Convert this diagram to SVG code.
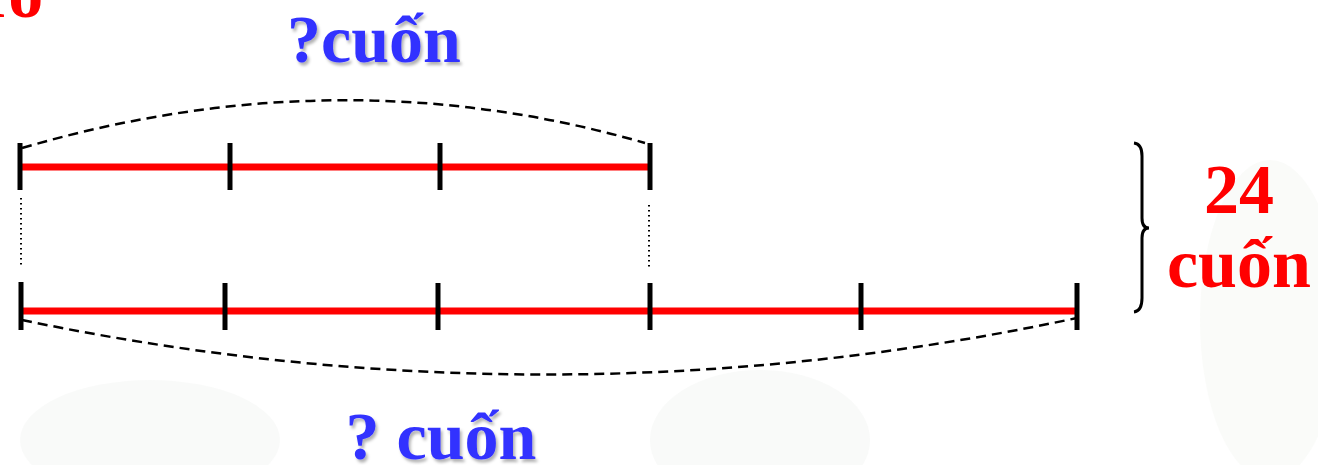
<svg xmlns="http://www.w3.org/2000/svg" width="1318" height="465" viewBox="0 0 1318 465">
<defs>
<style>
.red{fill:#ff0000;font-family:"Liberation Serif",serif;font-weight:bold;font-size:70px}
.blue{fill:#3333ff;font-family:"Liberation Serif",serif;font-weight:bold;font-size:68px}
.seg{stroke:#ff0000;stroke-width:7;fill:none}
.tick{stroke:#000;stroke-width:5;fill:none}
.dash{stroke:#000;stroke-width:2.5;stroke-dasharray:10 6;fill:none}
.dot{stroke:#000;stroke-width:2;stroke-dasharray:1.5 3.5;fill:none}
</style>
<filter id="sh" x="-10%" y="-10%" width="130%" height="140%">
<feDropShadow dx="2" dy="3" stdDeviation="1.5" flood-color="#000" flood-opacity="0.3"/>
</filter>
</defs>
<rect width="1318" height="465" fill="#fff"/>
<g id="bg" opacity="0.35">
<ellipse cx="150" cy="440" rx="130" ry="60" fill="#eef2ee"/>
<ellipse cx="760" cy="440" rx="110" ry="70" fill="#eef2ee"/>
<ellipse cx="1270" cy="320" rx="70" ry="160" fill="#f0f3ef"/>
</g>
<g id="title"><text class="red" x="-32" y="17" font-size="66">To</text></g>
<g id="connectors">
<path class="dash" d="M22,148 Q340,55 645,143"/>
<path class="dash" d="M22,320 Q550,430 1077,318"/>
<line class="dot" x1="21" y1="198" x2="21" y2="268"/>
<line class="dot" x1="649" y1="205" x2="649" y2="268"/>
<path d="M1134,143 Q1142,144 1142,156 L1142,218 Q1142,228 1149,228 Q1142,228 1142,238 L1142,298 Q1142,311 1134,312" fill="none" stroke="#000" stroke-width="3"/>
</g>
<g id="top-line">
<line class="seg" x1="20" y1="167" x2="650" y2="167"/>
<line class="tick" x1="20" y1="143" x2="20" y2="190"/>
<line class="tick" x1="230" y1="143" x2="230" y2="190"/>
<line class="tick" x1="440" y1="143" x2="440" y2="190"/>
<line class="tick" x1="650" y1="143" x2="650" y2="190"/>
</g>
<g id="bottom-line">
<line class="seg" x1="21" y1="311" x2="1077" y2="311"/>
<line class="tick" x1="21" y1="282" x2="21" y2="330"/>
<line class="tick" x1="225" y1="283" x2="225" y2="330"/>
<line class="tick" x1="438" y1="283" x2="438" y2="330"/>
<line class="tick" x1="650" y1="283" x2="650" y2="330"/>
<line class="tick" x1="861" y1="283" x2="861" y2="330"/>
<line class="tick" x1="1077" y1="283" x2="1077" y2="330"/>
</g>
<g id="label-top"><text class="blue" x="374" y="62" text-anchor="middle" filter="url(#sh)">?cuốn</text></g>
<g id="label-bottom"><text class="blue" x="441" y="459" text-anchor="middle" filter="url(#sh)">? cuốn</text></g>
<g id="label-total">
<text class="red" x="1239" y="213" text-anchor="middle">24</text>
<text class="red" x="1239" y="287" text-anchor="middle">cuốn</text>
</g>
</svg>
